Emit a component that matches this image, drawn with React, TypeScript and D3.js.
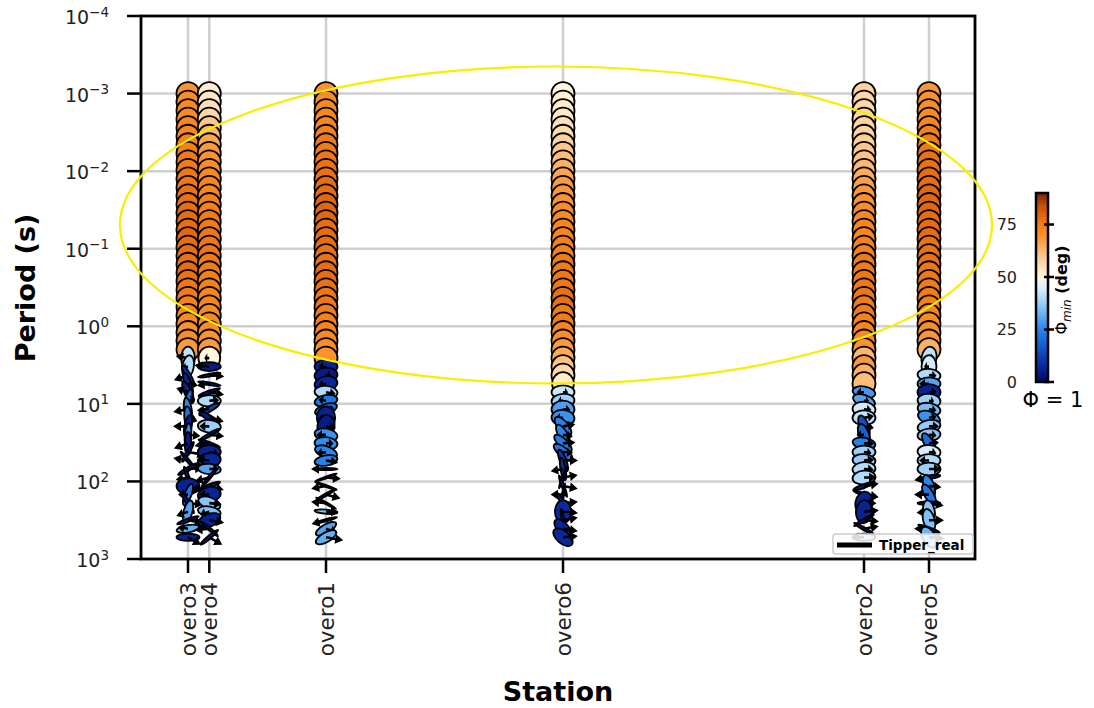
import React from "react";
import * as d3 from "d3";

// Stations along the profile (distance in km from overo3)
const STATIONS = ["overo3", "overo4", "overo1", "overo6", "overo2", "overo5"];
const STATION_KM = [0, 0.213, 1.38, 3.75, 6.76, 7.41];
const X_DOMAIN_KM = [-0.47, 7.87];

// log10 of the sampled periods (s)
const LOG10_PERIODS = [
  -3, -2.89, -2.78, -2.67, -2.56, -2.45, -2.34, -2.23, -2.12, -2.01,
  -1.9, -1.79, -1.68, -1.57, -1.46, -1.35, -1.24, -1.13, -1.02, -0.91,
  -0.8, -0.69, -0.58, -0.47, -0.36, -0.25, -0.14, -0.03, 0.08, 0.19,
  0.3, 0.41, 0.52, 0.63, 0.74, 0.85, 0.96, 1.07, 1.18, 1.29,
  1.4, 1.51, 1.62, 1.73, 1.84, 1.95, 2.06, 2.17, 2.28, 2.39,
  2.5, 2.61, 2.72,
];

// Phase tensor minimum phase (deg), one value per period
const PHIMIN_OVERO3 = [70, 71, 72, 72, 73, 73, 74, 74, 75, 75, 76, 76, 77, 77, 78, 78, 78, 79, 78, 78, 77, 78, 77, 76, 75, 74, 73, 72, 70, 71, 68,
  42, 40, 8, 6, 6, 20, 25, 22, 5, 26, 5, 4, 3, 5, 4, 6, 22, 5, 30, 4, 32, 6];
const PHIMIN_OVERO4 = [52, 53, 55, 57, 60, 63, 66, 68, 70, 71, 72, 73, 73, 74, 74, 75, 75, 76, 76, 76, 75, 75, 74, 74, 73, 73, 72, 72, 71, 70, 68,
  50, 5, 3, 4, 3, 40, 12, 5, 38, 4, 3, 6, 7, 30, 4, 5, 7, 36, 35, 6, 3, 4];
const PHIMIN_OVERO1 = [70, 71, 72, 73, 73, 74, 75, 75, 76, 77, 77, 78, 78, 79, 79, 79, 78, 78, 78, 77, 77, 78, 78, 77, 76, 76, 75, 74, 73, 72, 71, 70,
  6, 5, 7, 40, 22, 20, 6, 5, 27, 26, 25, 24, 3, 2, 3, 4, 3, 35, 4, 30, 32];
const PHIMIN_OVERO6 = [50, 51, 52, 53, 55, 56, 58, 60, 62, 64, 66, 68, 69, 70, 71, 72, 73, 73, 74, 74, 75, 75, 76, 76, 77, 77, 75, 75, 73, 71, 68, 65, 61, 57, 52,
  43, 38, 29, 27, 24, 25, 23, 22, 10, 8, 6, 4, 3, 5, 8, 4, 7, 8];
const PHIMIN_OVERO2 = [58, 57, 57, 57, 58, 58, 59, 60, 61, 63, 65, 67, 69, 70, 71, 72, 73, 73, 74, 74, 75, 75, 76, 76, 76, 75, 75, 74, 73, 72, 70, 63, 68, 64, 62,
  28, 30, 44, 42, 15, 18, 24, 38, 37, 40, 40, 5, 4, 6, 6, 4, 3, 36];
const PHIMIN_OVERO5 = [69, 70, 71, 72, 73, 74, 75, 76, 77, 77, 78, 78, 79, 79, 79, 78, 78, 78, 77, 77, 77, 76, 76, 75, 75, 74, 73, 72, 71, 69, 64,
  42, 44, 40, 30, 6, 38, 34, 27, 37, 36, 20, 45, 40, 38, 5, 25, 22, 4, 36, 35, 5, 33];

// Long periods (from index LONG_START) where the tensors become elongated;
// shorter periods are drawn as circles
const LONG_START = 30;

// Ellipse azimuth (deg, clockwise from vertical) and phimin/phimax ratio
const AZ_OVERO3 = [0, 0, 10, -30, -20, -25, 15, -10, -5, 10, 5, 0, 30, -40, 60, -20, 90, 20, -30, 15, 70, 80, 90];
const RATIO_OVERO3 = [1, 0.6, 0.5, 0.22, 0.28, 0.32, 0.3, 0.32, 0.32, 0.32, 0.28, 0.28, 0.14, 0.12, 0.16, 0.14, 0.7, 0.3, 0.16, 0.38, 0.14, 0.32, 0.32];
const AZ_OVERO4 = [0, 0, 90, 80, 100, 70, 90, 60, 120, 95, 60, 110, 90, 80, 95, 40, 70, 80, 110, 100, 70, 130, 50];
const RATIO_OVERO4 = [1, 0.95, 0.38, 0.12, 0.12, 0.14, 0.5, 0.22, 0.22, 0.55, 0.14, 0.12, 0.6, 0.65, 0.45, 0.12, 0.16, 0.65, 0.5, 0.45, 0.55, 0.12, 0.14];
const AZ_OVERO1 = [0, 0, 90, 85, 80, 95, 80, 70, 0, 10, 100, 95, 110, 80, 90, 70, 110, 60, 120, 95, 75, 60, 60];
const RATIO_OVERO1 = [1, 1, 0.6, 0.65, 0.65, 0.55, 0.5, 0.45, 0.8, 0.75, 0.55, 0.55, 0.5, 0.45, 0.1, 0.08, 0.08, 0.1, 0.08, 0.18, 0.1, 0.38, 0.42];
const AZ_OVERO6 = [0, 0, 0, 0, 0, 90, 85, 90, 95, 140, 150, 135, 130, 160, 170, 20, 160, 10, 150, 0, 170, 140, 130];
const RATIO_OVERO6 = [1, 1, 1, 1, 0.95, 0.6, 0.6, 0.75, 0.7, 0.45, 0.4, 0.4, 0.4, 0.28, 0.22, 0.1, 0.12, 0.1, 0.16, 0.7, 0.12, 0.5, 0.55];
const AZ_OVERO2 = [0, 0, 0, 0, 0, 100, 110, 95, 90, 160, 160, 100, 90, 95, 85, 85, 70, 110, 10, 5, 60, 120, 90];
const RATIO_OVERO2 = [1, 1, 1, 1, 1, 0.5, 0.5, 0.65, 0.65, 0.4, 0.45, 0.5, 0.55, 0.55, 0.6, 0.6, 0.16, 0.12, 0.75, 0.7, 0.12, 0.12, 0.32];
const AZ_OVERO5 = [0, 10, 0, 95, 90, 90, 95, 100, 110, 80, 85, 150, 95, 90, 90, 80, 160, 150, 90, 170, 165, 110, 150];
const RATIO_OVERO5 = [1, 0.65, 0.65, 0.55, 0.55, 0.7, 0.6, 0.55, 0.55, 0.55, 0.55, 0.4, 0.6, 0.55, 0.55, 0.14, 0.45, 0.4, 0.16, 0.5, 0.5, 0.12, 0.55];

// Real tipper magnitude and direction (deg, clockwise from up) at the long periods
const TIP_MAG_OVERO3 = [0, 0.25, 0.1, 0.3, 0.2, 0.25, 0.15, 0.3, 0.2, 0.3, 0.25, 0.3, 0.35, 0.3, 0.3, 0.25, 0.3, 0.2, 0.3, 0.25, 0.3, 0.2, 0.3];
const TIP_AZ_OVERO3 = [0, 280, 260, 250, 100, 290, 80, 260, 110, 270, 95, 250, 100, 280, 85, 260, 110, 270, 95, 250, 100, 280, 120];
const TIP_MAG_OVERO4 = [0, 0.1, 0.3, 0.3, 0.25, 0.3, 0.2, 0.25, 0.3, 0.2, 0.3, 0.3, 0.2, 0.25, 0.2, 0.3, 0.3, 0.2, 0.25, 0.2, 0.3, 0.3, 0.3];
const TIP_AZ_OVERO4 = [0, 270, 275, 95, 260, 100, 85, 265, 105, 270, 95, 260, 110, 275, 90, 255, 105, 270, 95, 250, 100, 265, 120];
const TIP_MAG_OVERO1 = [0, 0, 0.15, 0.1, 0.15, 0.2, 0.15, 0.2, 0.15, 0.2, 0.2, 0.15, 0.2, 0.25, 0.3, 0.3, 0.3, 0.3, 0.3, 0.25, 0.3, 0.25, 0.35];
const TIP_AZ_OVERO1 = [0, 0, 270, 90, 260, 100, 280, 95, 265, 100, 270, 90, 260, 100, 270, 95, 260, 105, 275, 90, 255, 110, 100];
const TIP_MAG_OVERO6 = [0, 0, 0, 0, 0, 0.1, 0.1, 0.15, 0.15, 0.25, 0.2, 0.25, 0.2, 0.3, 0.25, 0.3, 0.3, 0.25, 0.3, 0.3, 0.3, 0.3, 0.3];
const TIP_AZ_OVERO6 = [0, 0, 0, 0, 0, 90, 270, 95, 270, 80, 100, 85, 95, 90, 260, 80, 100, 270, 85, 95, 80, 100, 85];
const TIP_MAG_OVERO2 = [0, 0, 0, 0, 0, 0.15, 0.1, 0.15, 0.2, 0.2, 0.15, 0.2, 0.15, 0.2, 0.2, 0.25, 0.3, 0.3, 0.25, 0.3, 0.3, 0.3, 0.25];
const TIP_AZ_OVERO2 = [0, 0, 0, 0, 0, 270, 90, 95, 80, 100, 270, 90, 100, 85, 95, 90, 80, 100, 90, 85, 95, 80, 270];
const TIP_MAG_OVERO5 = [0, 0.1, 0.1, 0.15, 0.2, 0.15, 0.1, 0.15, 0.15, 0.2, 0.15, 0.2, 0.15, 0.2, 0.25, 0.3, 0.25, 0.3, 0.3, 0.25, 0.3, 0.3, 0.3];
const TIP_AZ_OVERO5 = [0, 90, 270, 95, 270, 85, 95, 100, 80, 90, 95, 85, 100, 270, 90, 260, 95, 270, 100, 265, 90, 270, 95];

// Period axis decades
const Y_TICK_EXPONENTS = [-4, -3, -2, -1, 0, 1, 2, 3];
const GRID_EXPONENTS = [-3, -2, -1, 0, 1, 2];

// Colour bar
const CBAR_TICKS = [0, 25, 50, 75];
const CMAP_STOPS = [0, 8, 18, 25, 33, 40, 46, 50, 56, 62, 68, 73, 78, 84, 90];
const CMAP_COLORS = ["#00086a", "#0a2a9c", "#1561d2", "#2a86ec", "#6fb4f3", "#b0dbfa", "#e4f2fb", "#fff6dc",
  "#fddcb0", "#fcbd78", "#fa9a3c", "#f7861c", "#e66e10", "#c4500a", "#7a2106"];

// Highlighted region (km, log10 period)
const HIGHLIGHT_CENTER = [3.68, -1.306];
const HIGHLIGHT_HALF = [4.36, 2.043];

const SERIES = STATIONS.map((name, k) => ({
  name,
  km: STATION_KM[k],
  phimin: [PHIMIN_OVERO3, PHIMIN_OVERO4, PHIMIN_OVERO1, PHIMIN_OVERO6, PHIMIN_OVERO2, PHIMIN_OVERO5][k],
  az: [AZ_OVERO3, AZ_OVERO4, AZ_OVERO1, AZ_OVERO6, AZ_OVERO2, AZ_OVERO5][k],
  ratio: [RATIO_OVERO3, RATIO_OVERO4, RATIO_OVERO1, RATIO_OVERO6, RATIO_OVERO2, RATIO_OVERO5][k],
  tipMag: [TIP_MAG_OVERO3, TIP_MAG_OVERO4, TIP_MAG_OVERO1, TIP_MAG_OVERO6, TIP_MAG_OVERO2, TIP_MAG_OVERO5][k],
  tipAz: [TIP_AZ_OVERO3, TIP_AZ_OVERO4, TIP_AZ_OVERO1, TIP_AZ_OVERO6, TIP_AZ_OVERO2, TIP_AZ_OVERO5][k],
}));

const FONT = "DejaVu Sans, Liberation Sans, sans-serif";
const ELLIPSE_SIZE = 23;
const ARROW_SCALE = 50;

function arrowPath(cx: number, cy: number, len: number, azDeg: number) {
  const a = (azDeg * Math.PI) / 180;
  const ux = Math.sin(a), uy = -Math.cos(a);
  const px = -uy, py = ux;
  const head = Math.min(8, len * 0.6);
  const hw = 4.8, lw = 1.3;
  const tx = cx + ux * len, ty = cy + uy * len;
  const bx = tx - ux * head, by = ty - uy * head;
  const pts = [
    [cx + px * lw, cy + py * lw],
    [bx + px * lw, by + py * lw],
    [bx + px * hw, by + py * hw],
    [tx, ty],
    [bx - px * hw, by - py * hw],
    [bx - px * lw, by - py * lw],
    [cx - px * lw, cy - py * lw],
  ];
  return "M" + pts.map((p) => p[0].toFixed(2) + "," + p[1].toFixed(2)).join("L") + "Z";
}

export default function App() {
  const W = 1094, H = 708;
  const plot = { left: 141, right: 975, top: 16, bottom: 559 };

  const x = d3.scaleLinear().domain(X_DOMAIN_KM).range([plot.left, plot.right]);
  const y = d3.scaleLog().domain([1e-4, 1e3]).range([plot.top, plot.bottom]);
  const color = d3.scaleLinear<string>().domain(CMAP_STOPS).range(CMAP_COLORS)
    .interpolate(d3.interpolateRgb).clamp(true);

  const cbar = { x: 1036, w: 12 };
  const cy = d3.scaleLinear().domain([0, 90]).range([382, 193]);

  const hx = x(HIGHLIGHT_CENTER[0]);
  const hy = y(Math.pow(10, HIGHLIGHT_CENTER[1]));
  const hrx = x(HIGHLIGHT_CENTER[0] + HIGHLIGHT_HALF[0]) - hx;
  const hry = y(Math.pow(10, HIGHLIGHT_CENTER[1] + HIGHLIGHT_HALF[1])) - hy;

  const marks: React.ReactNode[] = [];
  SERIES.forEach((s) => {
    const sx = x(s.km);
    LOG10_PERIODS.forEach((lp, i) => {
      const py = y(Math.pow(10, lp));
      const j = i - LONG_START;
      const ratio = j >= 0 ? s.ratio[j] : 1;
      const az = j >= 0 ? s.az[j] : 0;
      marks.push(
        <ellipse key={`${s.name}-e${i}`} cx={sx} cy={py}
          rx={(ELLIPSE_SIZE * ratio) / 2} ry={ELLIPSE_SIZE / 2}
          transform={`rotate(${az} ${sx} ${py})`}
          fill={color(s.phimin[i])} stroke="#000" strokeWidth={1.8} />
      );
      if (j >= 0 && s.tipMag[j] > 0) {
        marks.push(
          <path key={`${s.name}-t${i}`} d={arrowPath(sx, py, s.tipMag[j] * ARROW_SCALE, s.tipAz[j])} fill="#000" />
        );
      }
    });
  });

  const gradStops = d3.range(0, 91, 2);

  return (
    <div style={{ position: "absolute", left: 0, top: 0 }}>
      <svg width={W} height={H} style={{ display: "block", background: "#fff" }} fontFamily={FONT}>
        <defs>
          <linearGradient id="cbarGrad" x1="0" y1="1" x2="0" y2="0">
            {gradStops.map((v) => (
              <stop key={v} offset={`${(v / 90) * 100}%`} stopColor={color(v)} />
            ))}
          </linearGradient>
        </defs>

        {/* grid */}
        <g stroke="#cfcfcf" strokeWidth={2.5}>
          {GRID_EXPONENTS.map((e) => (
            <line key={`gy${e}`} x1={plot.left} x2={plot.right} y1={y(Math.pow(10, e))} y2={y(Math.pow(10, e))} />
          ))}
          {SERIES.map((s) => (
            <line key={`gx${s.name}`} x1={x(s.km)} x2={x(s.km)} y1={plot.top} y2={plot.bottom} />
          ))}
        </g>

        {/* phase tensor ellipses and tipper arrows */}
        <g>{marks}</g>

        {/* frame */}
        <rect x={plot.left} y={plot.top} width={plot.right - plot.left} height={plot.bottom - plot.top}
          fill="none" stroke="#000" strokeWidth={2.8} />

        {/* y ticks */}
        {Y_TICK_EXPONENTS.map((e) => {
          const ty = y(Math.pow(10, e));
          return (
            <g key={`yt${e}`}>
              <line x1={plot.left - 14} x2={plot.left} y1={ty} y2={ty} stroke="#000" strokeWidth={2.5} />
              <text x={109} y={ty} dy="0.42em" textAnchor="end" fontSize={19} fill="#222">
                10<tspan dy="-0.55em" fontSize={13.5}>{e < 0 ? `\u2212${-e}` : `${e}`}</tspan>
              </text>
            </g>
          );
        })}

        {/* x ticks */}
        {SERIES.map((s) => {
          const sx = x(s.km);
          return (
            <g key={`xt${s.name}`}>
              <line x1={sx} x2={sx} y1={plot.bottom} y2={plot.bottom + 14} stroke="#000" strokeWidth={2.5} />
              <text transform={`translate(${sx},${plot.bottom + 23}) rotate(-90)`} dy="0.35em"
                textAnchor="end" fontSize={21.5} fill="#222">{s.name}</text>
            </g>
          );
        })}

        {/* axis titles */}
        <text transform="translate(35,288) rotate(-90)" textAnchor="middle" fontSize={27} fontWeight="bold">Period (s)</text>
        <text x={558} y={701} textAnchor="middle" fontSize={27} fontWeight="bold">Station</text>

        {/* legend */}
        <g>
          <rect x={833} y={534} width={140} height={20} rx={3} fill="#fff" fillOpacity={0.85} stroke="#cccccc" strokeWidth={1.5} />
          <line x1={837} x2={872} y1={545} y2={545} stroke="#000" strokeWidth={5} />
          <text x={879} y={550} fontSize={13.5} fontWeight="bold">Tipper_real</text>
        </g>

        {/* highlighted region */}
        <ellipse cx={hx} cy={hy} rx={hrx} ry={hry} fill="none" stroke="#f7ee00" strokeWidth={2.2} />

        {/* colour bar */}
        <rect x={cbar.x} y={cy(90)} width={cbar.w} height={cy(0) - cy(90)} fill="url(#cbarGrad)" stroke="#000" strokeWidth={2.5} />
        {CBAR_TICKS.map((t) => (
          <g key={`cb${t}`}>
            <line x1={cbar.x + cbar.w - 4} x2={cbar.x + cbar.w + 6} y1={cy(t)} y2={cy(t)} stroke="#000" strokeWidth={2.5} />
            <text x={1017} y={cy(t)} dy="0.35em" textAnchor="end" fontSize={16} fill="#222">{t}</text>
          </g>
        ))}
        <text transform="translate(1067,290) rotate(-90)" textAnchor="middle" fontSize={16}>
          <tspan>Φ</tspan><tspan fontStyle="italic" fontSize={12} dy="4">min</tspan>
          <tspan dy="-4" fontWeight="bold"> (deg)</tspan>
        </text>
        <text x={1053} y={407} textAnchor="middle" fontSize={21}>Φ = 1</text>
      </svg>
    </div>
  );
}
